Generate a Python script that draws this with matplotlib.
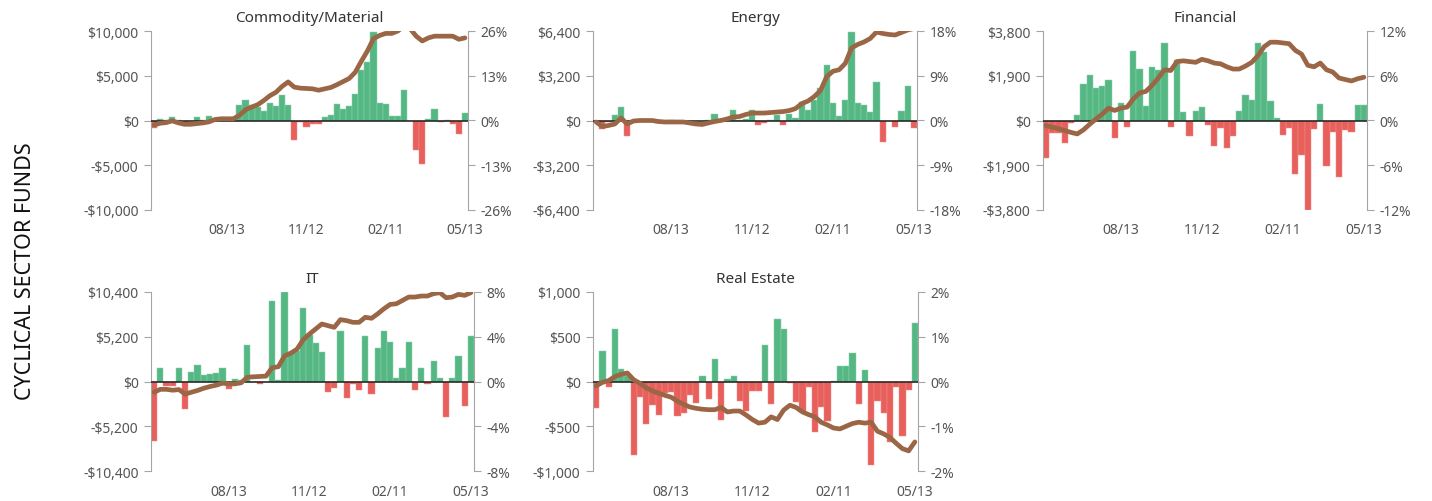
import matplotlib
matplotlib.use("Agg")
import matplotlib.pyplot as plt

plt.rcParams['font.family'] = ['Noto Sans', 'DejaVu Sans']

# weekly flows ($) and cumulative flow (% of assets), 52 weeks
tick_pos = [12, 25, 38, 51]
tick_labels = ['08/13', '11/12', '02/11', '05/13']

commodity_flows = [-800, 200, 100, 350, 100, -150, -100, 350, 100, 500,
                   100, 150, 150, 150, 1700, 2300, 1700, 1500, 1100, 2000,
                   1600, 2900, 1700, -2200, -200, -700, -400, -400, 350, 650,
                   1850, 1300, 1650, 3000, 5600, 6500, 9900, 2000, 1850, 500,
                   500, 3400, -50, -3300, -4900, 200, 1250, -200, 50, -400,
                   -1550, 800]
commodity_pct = [-1.3, -0.8, -0.6, -0.1, -0.7, -1.1, -1.1, -0.9, -0.7, -0.4,
                 0.3, 0.5, 0.5, 0.5, 1.5, 3.1, 3.9, 4.6, 5.8, 7.2,
                 8.2, 9.9, 11.2, 9.7, 9.4, 9.3, 9.2, 8.8, 9.2, 9.6,
                 10.4, 11.3, 12.2, 14.0, 17.2, 20.2, 23.8, 24.7, 25.3, 25.3,
                 26.0, 27.5, 26.7, 24.5, 23.1, 24.0, 24.5, 24.5, 24.5, 24.5,
                 23.6, 24.0]

energy_flows = [-50, -600, -100, 360, 970, -1130, 50, 0, 0, 0,
                -200, 0, 70, 0, 0, 0, 0, 0, 70, 480,
                100, 100, 770, 50, 100, 770, -290, -190, 70, 410,
                -290, 480, 190, 1330, 770, 1500, 2290, 3940, 1260, 290,
                1450, 6350, 1260, 1090, 600, 2780, -1520, 0, -480, 680,
                2490, -560]
energy_pct = [-0.3, -1.2, -1.0, -0.7, 0.5, -0.7, -0.1, 0, 0, 0,
              -0.2, -0.3, -0.3, -0.3, -0.3, -0.5, -0.7, -0.8, -0.5, -0.2,
              0, 0.3, 0.7, 0.8, 1.2, 1.5, 1.5, 1.5, 1.6, 1.7,
              1.8, 2.0, 2.4, 3.4, 3.9, 4.8, 6.0, 8.8, 9.9, 10.2,
              11.5, 14.6, 15.3, 15.8, 16.5, 17.8, 17.5, 17.3, 17.2, 17.7,
              18.2, 18.5]

financial_flows = [-1600, -540, -540, -940, -100, 240, 1550, 1950, 1380, 1480,
                   1710, -730, 740, -260, 2950, 2200, 600, 2280, 2160, 3300,
                   -260, 2560, 340, -640, 410, 570, -210, -1080, -300, -1150,
                   -650, 410, 1070, 880, 3300, 2920, 810, 100, -610, -330,
                   -2290, -1470, -3800, -370, 700, -1920, -470, -2420, -400, -470,
                   640, 640]
financial_pct = [-0.7, -0.9, -1.1, -1.35, -1.6, -1.8, -1.25, -0.5, 0.2, 0.85,
                 1.65, 1.35, 1.65, 1.8, 2.9, 3.7, 3.9, 4.7, 5.7, 6.8,
                 6.7, 7.9, 8.0, 7.9, 7.8, 8.2, 8.0, 7.7, 7.6, 7.2,
                 6.9, 6.9, 7.3, 7.8, 8.7, 9.9, 10.5, 10.5, 10.4, 10.3,
                 9.4, 8.9, 7.4, 7.2, 7.7, 6.8, 6.5, 5.7, 5.5, 5.3,
                 5.6, 5.8]

it_flows = [-6920, 1600, -550, -550, 1600, -3150, 1100, 1900, 700, 820,
            940, 1600, -900, 320, 230, 4220, 0, -270, 0, 9350,
            230, 10400, 3440, 3560, 8560, 5400, 4420, 3480, -1250, -740,
            5900, -1920, -270, -1020, 5320, -1450, 3950, 5900, 4540, 350,
            1600, 4610, -1020, 1600, -270, 2390, 350, -4070, 350, 2970,
            -2890, 5320]
it_pct = [-0.96, -0.70, -0.70, -0.78, -0.72, -1.12, -0.96, -0.80, -0.60, -0.45,
          -0.33, -0.15, -0.21, -0.21, -0.12, 0.38, 0.42, 0.45, 0.48, 1.23,
          1.32, 2.29, 2.53, 2.89, 3.73, 4.24, 4.69, 5.14, 4.99, 4.84,
          5.53, 5.44, 5.29, 5.29, 5.74, 5.65, 6.05, 6.50, 6.89, 6.95,
          7.25, 7.55, 7.55, 7.64, 7.64, 7.85, 7.94, 7.49, 7.55, 7.79,
          7.70, 7.94]

re_flows = [-294, 340, -64, 592, 140, 60, -822, -170, -471, -264,
            -377, -124, -121, -388, -350, -150, -237, 64, -200, 256,
            -426, 30, 64, -215, -328, -102, -102, 407, -253, 697,
            592, -19, -226, -340, -64, -565, -283, -441, 11, 170,
            170, 320, -253, 124, -935, -215, -350, -680, -64, -610,
            -94, 650]
re_pct = [-0.10, -0.02, 0.02, 0.11, 0.16, 0.19, 0.04, -0.04, -0.14, -0.21,
          -0.26, -0.31, -0.35, -0.44, -0.51, -0.57, -0.60, -0.62, -0.63, -0.63,
          -0.58, -0.68, -0.66, -0.66, -0.75, -0.85, -0.93, -0.91, -0.79, -0.85,
          -0.64, -0.53, -0.58, -0.68, -0.74, -0.79, -0.91, -0.97, -1.04, -1.06,
          -1.00, -0.94, -0.91, -0.93, -0.91, -1.11, -1.17, -1.25, -1.38, -1.50,
          -1.55, -1.35]

GREEN = '#55b884'
RED = '#e8605c'
BROWN = '#9b6646'
SPINE = '#a5a5a5'
TXT = '#555555'

W, H = 1432, 502
# (title, flows, pct, flow step, pct step, left px, right px, top px)
panels = [
    ('Commodity/Material', commodity_flows, commodity_pct, 5000, 13, 151, 468, 32),
    ('Energy', energy_flows, energy_pct, 3200, 9, 593, 917, 32),
    ('Financial', financial_flows, financial_pct, 1900, 6, 1043, 1367, 32),
    ('IT', it_flows, it_pct, 5200, 4, 151, 474, 293),
    ('Real Estate', re_flows, re_pct, 500, 1, 593, 918, 293),
]


def dollars(v):
    return f"${v:,.0f}" if v >= 0 else f"-${-v:,.0f}"


fig = plt.figure(figsize=(W / 100, H / 100), dpi=100)

for title, flows, pct, fstep, pstep, x0, x1, top in panels:
    ax = fig.add_axes([x0 / W, 1 - (top + 179) / H, (x1 - x0) / W, 179 / H])
    x = list(range(len(flows)))
    colors = [GREEN if v >= 0 else RED for v in flows]
    edges = ['#8fd1ad' if v >= 0 else '#f08d89' for v in flows]
    ax.bar(x, flows, width=1.0, color=colors, edgecolor=edges, linewidth=0.35, zorder=2)
    ax.axhline(0, color='#1e1e1e', lw=1.3, alpha=0.85, zorder=3)
    ax.set_xlim(-0.5, len(flows) - 0.5)
    ax.set_ylim(-2 * fstep, 2 * fstep)
    fticks = [-2 * fstep, -fstep, 0, fstep, 2 * fstep]
    ax.set_yticks(fticks)
    ax.set_yticklabels([dollars(v) for v in fticks])
    ax.set_xticks(tick_pos)
    ax.set_xticklabels(tick_labels)
    ax.tick_params(axis='x', length=0, pad=9, labelsize=10, labelcolor=TXT)
    ax.tick_params(axis='y', length=5, color=SPINE, labelsize=10, labelcolor=TXT, pad=4)
    for s in ['top', 'bottom', 'right']:
        ax.spines[s].set_visible(False)
    ax.spines['left'].set_color(SPINE)
    ax.set_title(title, fontsize=11, color='#333333', pad=7)

    tw = ax.twinx()
    tw.plot(x, pct, color=BROWN, lw=3.4, solid_joinstyle='round', solid_capstyle='round')
    tw.set_ylim(-2 * pstep, 2 * pstep)
    pticks = [-2 * pstep, -pstep, 0, pstep, 2 * pstep]
    tw.set_yticks(pticks)
    tw.set_yticklabels([f"{v:.0f}%" for v in pticks])
    tw.tick_params(axis='y', length=5, color=SPINE, labelsize=10, labelcolor=TXT, pad=4)
    for s in ['top', 'bottom', 'left']:
        tw.spines[s].set_visible(False)
    tw.spines['right'].set_color(SPINE)

fig.text(0.0175, 0.46, 'CYCLICAL SECTOR FUNDS', rotation=90, ha='center', va='center',
         fontsize=15.5, color='#111111')

fig.savefig('out.png', dpi=100)
